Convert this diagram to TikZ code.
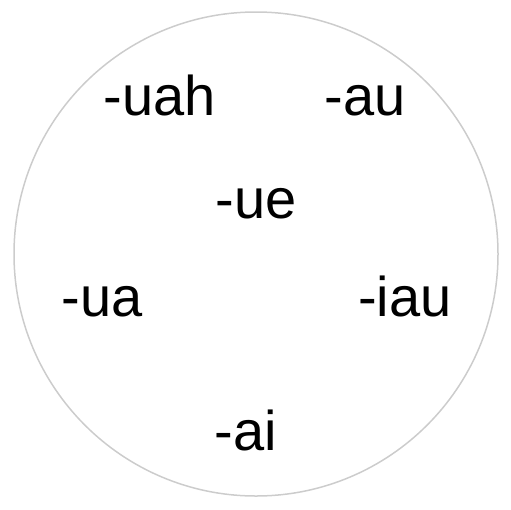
\documentclass[tikz,border=0pt]{standalone}
\usepackage{fontspec}
\setmainfont{Liberation Sans}
\begin{document}
\begin{tikzpicture}[x=1pt,y=-1pt,
  lbl/.style={anchor=base,inner sep=0pt,font=\fontsize{56}{62}\selectfont}]
\useasboundingbox (0,0) rectangle (511,509);
\draw[line width=1.5pt,draw={rgb,255:red,204;green,204;blue,204}] (256,254) circle[radius=242];
\node[lbl] (uah) at (160,115) {-uah};
\node[lbl] (au) at (365,115) {-au};
\node[lbl] (ue) at (256,218) {-ue};
\node[lbl] (ua) at (102,316) {-ua};
\node[lbl] (iau) at (405,316) {-iau};
\node[lbl] (ai) at (246,450) {-ai};
\end{tikzpicture}
\end{document}
